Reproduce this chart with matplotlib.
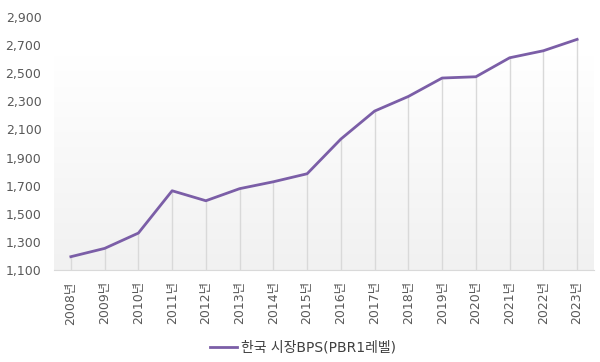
import numpy as np
import matplotlib.pyplot as plt
from matplotlib.ticker import FuncFormatter

plt.rcParams['font.family'] = ['DejaVu Sans', 'Noto Sans CJK KR']

years = [f"{y}년" for y in range(2008, 2024)]
bps = [1195, 1254, 1363, 1664, 1593, 1679, 1728, 1785,
       2032, 2231, 2335, 2466, 2475, 2610, 2660, 2741]
series_name = "한국 시장BPS(PBR1레벨)"

fig = plt.figure(figsize=(6, 3.62), dpi=100)
ax = fig.add_axes([0.09, 0.254, 0.90, 0.699])

x = np.arange(len(years))

# gradient background, white at top to light gray at bottom
grad = np.concatenate([np.ones(40), np.linspace(1.0, 0.945, 216)]).reshape(-1, 1)
ax.imshow(np.dstack([grad, grad, grad]), aspect="auto", origin="upper",
          extent=(-0.5, len(years) - 0.5, 1100, 2900), zorder=0)
ax.set_xlim(-0.5, len(years) - 0.5)
ax.set_ylim(1100, 2900)

# drop lines
ax.vlines(x, 1100, bps, color="#d9d9d9", linewidth=1, zorder=1)
line, = ax.plot(x, bps, color="#7b5ea7", linewidth=2, zorder=3)

ax.set_yticks(range(1100, 3000, 200))
ax.yaxis.set_major_formatter(FuncFormatter(lambda v, p: f"{int(v):,}"))
ax.set_xticks(x)
ax.set_xticklabels(years, rotation=90)
ax.tick_params(axis="both", length=0, labelsize=9, colors="#595959")
ax.tick_params(axis="y", pad=9)
ax.tick_params(axis="x", pad=8)

for s in ["top", "right", "left"]:
    ax.spines[s].set_visible(False)
ax.spines["bottom"].set_color("#d9d9d9")

fig.legend([line], [series_name], loc="center", bbox_to_anchor=(0.505, 0.04),
           frameon=False, fontsize=10, handlelength=2.0, handletextpad=0.3,
           labelcolor="#404040")

fig.savefig("out.png", dpi=100)
